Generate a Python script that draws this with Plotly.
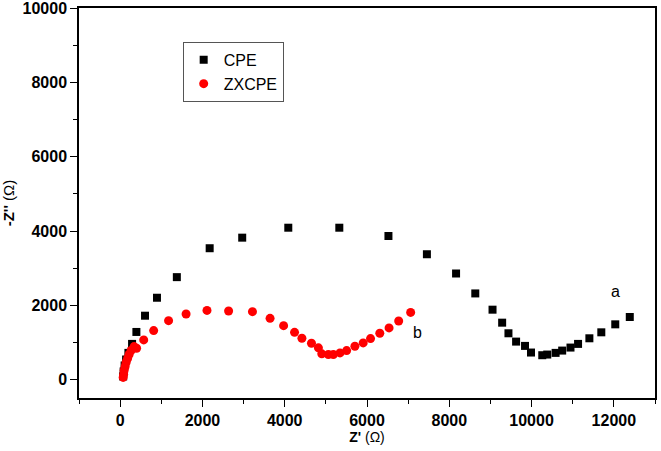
import plotly.graph_objects as go

# CPE (black squares)
cpe_x = [73, 85, 109, 145, 201, 290, 395, 605, 895, 1378, 2176, 2967, 4087, 5327, 6521,
         7456, 8165, 8632, 9051, 9285, 9438, 9624, 9841, 9986, 10260, 10381, 10584,
         10744, 10946, 11130, 11405, 11695, 12034, 12387]
cpe_y = [81, 215, 376, 537, 716, 958, 1280, 1718, 2202, 2757, 3536, 3821, 4089, 4089, 3866,
         3374, 2855, 2318, 1880, 1530, 1244, 1020, 904, 725, 653, 671, 716,
         778, 859, 958, 1109, 1270, 1485, 1683]

# ZXCPE (red circles)
zx_x = [73, 85, 97, 121, 145, 181, 218, 266, 338, 400, 573, 815, 1177, 1603, 2111, 2636,
        3216, 3644, 3973, 4239, 4418, 4650, 4819, 4901, 5061, 5182, 5344, 5505, 5706,
        5907, 6086, 6311, 6536, 6770, 7061]
zx_y = [54, 134, 242, 349, 456, 564, 671, 779, 886, 840, 1066, 1316, 1584, 1764, 1861, 1844,
        1826, 1646, 1450, 1270, 1109, 975, 851, 690, 671, 671, 716, 778, 894,
        985, 1101, 1244, 1388, 1576, 1807]

labels = ["a", "b"]
label_x = [12042, 7230]
label_y = [2363, 1262]

x_ticks = [0, 2000, 4000, 6000, 8000, 10000, 12000]
y_ticks = [0, 2000, 4000, 6000, 8000, 10000]

FONT = "Arial, Liberation Sans, sans-serif"

fig = go.Figure()
fig.add_trace(go.Scatter(x=cpe_x, y=cpe_y, mode="markers", name="CPE",
                         marker=dict(symbol="square", size=8, color="black")))
fig.add_trace(go.Scatter(x=zx_x, y=zx_y, mode="markers", name="ZXCPE",
                         marker=dict(symbol="circle", size=9, color="#ff0000")))

for t, xx, yy in zip(labels, label_x, label_y):
    fig.add_annotation(x=xx, y=yy, text=t, showarrow=False,
                       font=dict(family=FONT, size=16, color="black"))

axis_common = dict(
    showline=True, linecolor="black", linewidth=1.5, mirror=True,
    ticks="outside", ticklen=7, tickwidth=1.2, tickcolor="black",
    showgrid=False, zeroline=False, automargin=False,
    tickformat="d", ticklabeloverflow="allow",
    tickfont=dict(family=FONT, size=16, color="black", weight="bold"),
    minor=dict(ticks="outside", ticklen=4, tickwidth=1.2, tickcolor="black", dtick=1000),
)

fig.update_layout(
    width=661, height=451,
    margin=dict(l=79, r=6, t=8, b=53),
    plot_bgcolor="white", paper_bgcolor="white",
    showlegend=True,
    legend=dict(x=0.18, y=0.913, xanchor="left", yanchor="top",
                bgcolor="white", bordercolor="#555555", borderwidth=1,
                font=dict(family=FONT, size=16, color="black"),
                itemwidth=30),
    xaxis=dict(range=[-1000, 13000], tickvals=x_ticks,
               title=dict(text="<b>Z'</b> (Ω)", standoff=0,
                          font=dict(family=FONT, size=14, color="black")),
               **axis_common),
    yaxis=dict(range=[-500, 10010], tickvals=y_ticks,
               title=dict(text="<b>-Z''</b> (Ω)", standoff=10,
                          font=dict(family=FONT, size=15, color="black")),
               **axis_common),
)

fig.write_html("out.html", config={"displayModeBar": False},
               post_script="document.body.style.margin='0';")
